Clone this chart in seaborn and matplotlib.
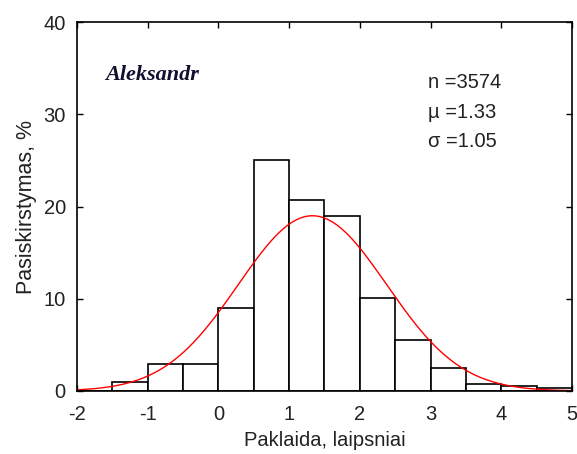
import numpy as np
import pandas as pd
import matplotlib
matplotlib.use("Agg")
import matplotlib.pyplot as plt
import seaborn as sns

# Data
bin_edges = [-2.0, -1.5, -1.0, -0.5, 0.0, 0.5, 1.0, 1.5, 2.0, 2.5, 3.0, 3.5, 4.0, 4.5, 5.0]
percent = [0.0, 1.0, 2.9, 2.9, 9.0, 25.0, 20.7, 19.0, 10.1, 5.5, 2.5, 0.75, 0.5, 0.3]
n_obs = 3574
mu = 1.33
sigma = 1.05
x_ticks = [-2, -1, 0, 1, 2, 3, 4, 5]
y_ticks = [0, 10, 20, 30, 40]

sns.set_style("white")
plt.rcParams['font.family'] = ['Liberation Sans', 'DejaVu Sans']

fig = plt.figure(figsize=(5.77, 4.54), dpi=100)
ax = fig.add_axes([0.1334, 0.1388, 0.8579, 0.8127])

centers = [(a + b) / 2 for a, b in zip(bin_edges[:-1], bin_edges[1:])]
df = pd.DataFrame({"x": centers, "w": percent})
sns.histplot(data=df, x="x", weights="w", bins=bin_edges, stat="count",
             fill=True, color="white", edgecolor="black", linewidth=1.2,
             alpha=1, ax=ax)

width = bin_edges[1] - bin_edges[0]
xs = np.linspace(-2, 5, 400)
ys = 100 * width / (sigma * np.sqrt(2 * np.pi)) * np.exp(-0.5 * ((xs - mu) / sigma) ** 2)
sns.lineplot(x=xs, y=ys, color="red", linewidth=1.0, ax=ax)

txt = "#222222"
ax.set_xlim(-2, 5)
ax.set_ylim(0, 40)
ax.set_xticks(x_ticks)
ax.set_yticks(y_ticks)
ax.set_xticklabels([str(t) for t in x_ticks])
ax.set_yticklabels([str(t) for t in y_ticks])
ax.tick_params(axis="both", which="both", direction="in", length=4, width=1,
               top=True, right=True, bottom=True, left=True, labelsize=14.5,
               colors="black", labelcolor=txt)
ax.tick_params(axis="x", pad=10)
ax.tick_params(axis="y", pad=8)
for s in ax.spines.values():
    s.set_visible(True)
    s.set_color("black")
    s.set_linewidth(1.2)

ax.set_xlabel("Paklaida, laipsniai", fontsize=14.5, labelpad=5, color=txt)
ax.set_ylabel("Pasiskirstymas, %", fontsize=15.5, labelpad=5, color=txt)

ax.text(0.057, 0.856, "Aleksandr", transform=ax.transAxes, fontsize=16,
        family="Liberation Serif", style="italic", weight="bold", color="#101030",
        va="center")
ax.text(0.709, 0.837, "n =%d" % n_obs, transform=ax.transAxes, fontsize=14.5, va="center", color=txt)
ax.text(0.709, 0.756, "\u00b5 =%.2f" % mu, transform=ax.transAxes, fontsize=14.5, va="center", color=txt)
ax.text(0.709, 0.675, "\u03c3 =%.2f" % sigma, transform=ax.transAxes, fontsize=14.5, va="center", color=txt)

fig.savefig("out.png", dpi=100)
